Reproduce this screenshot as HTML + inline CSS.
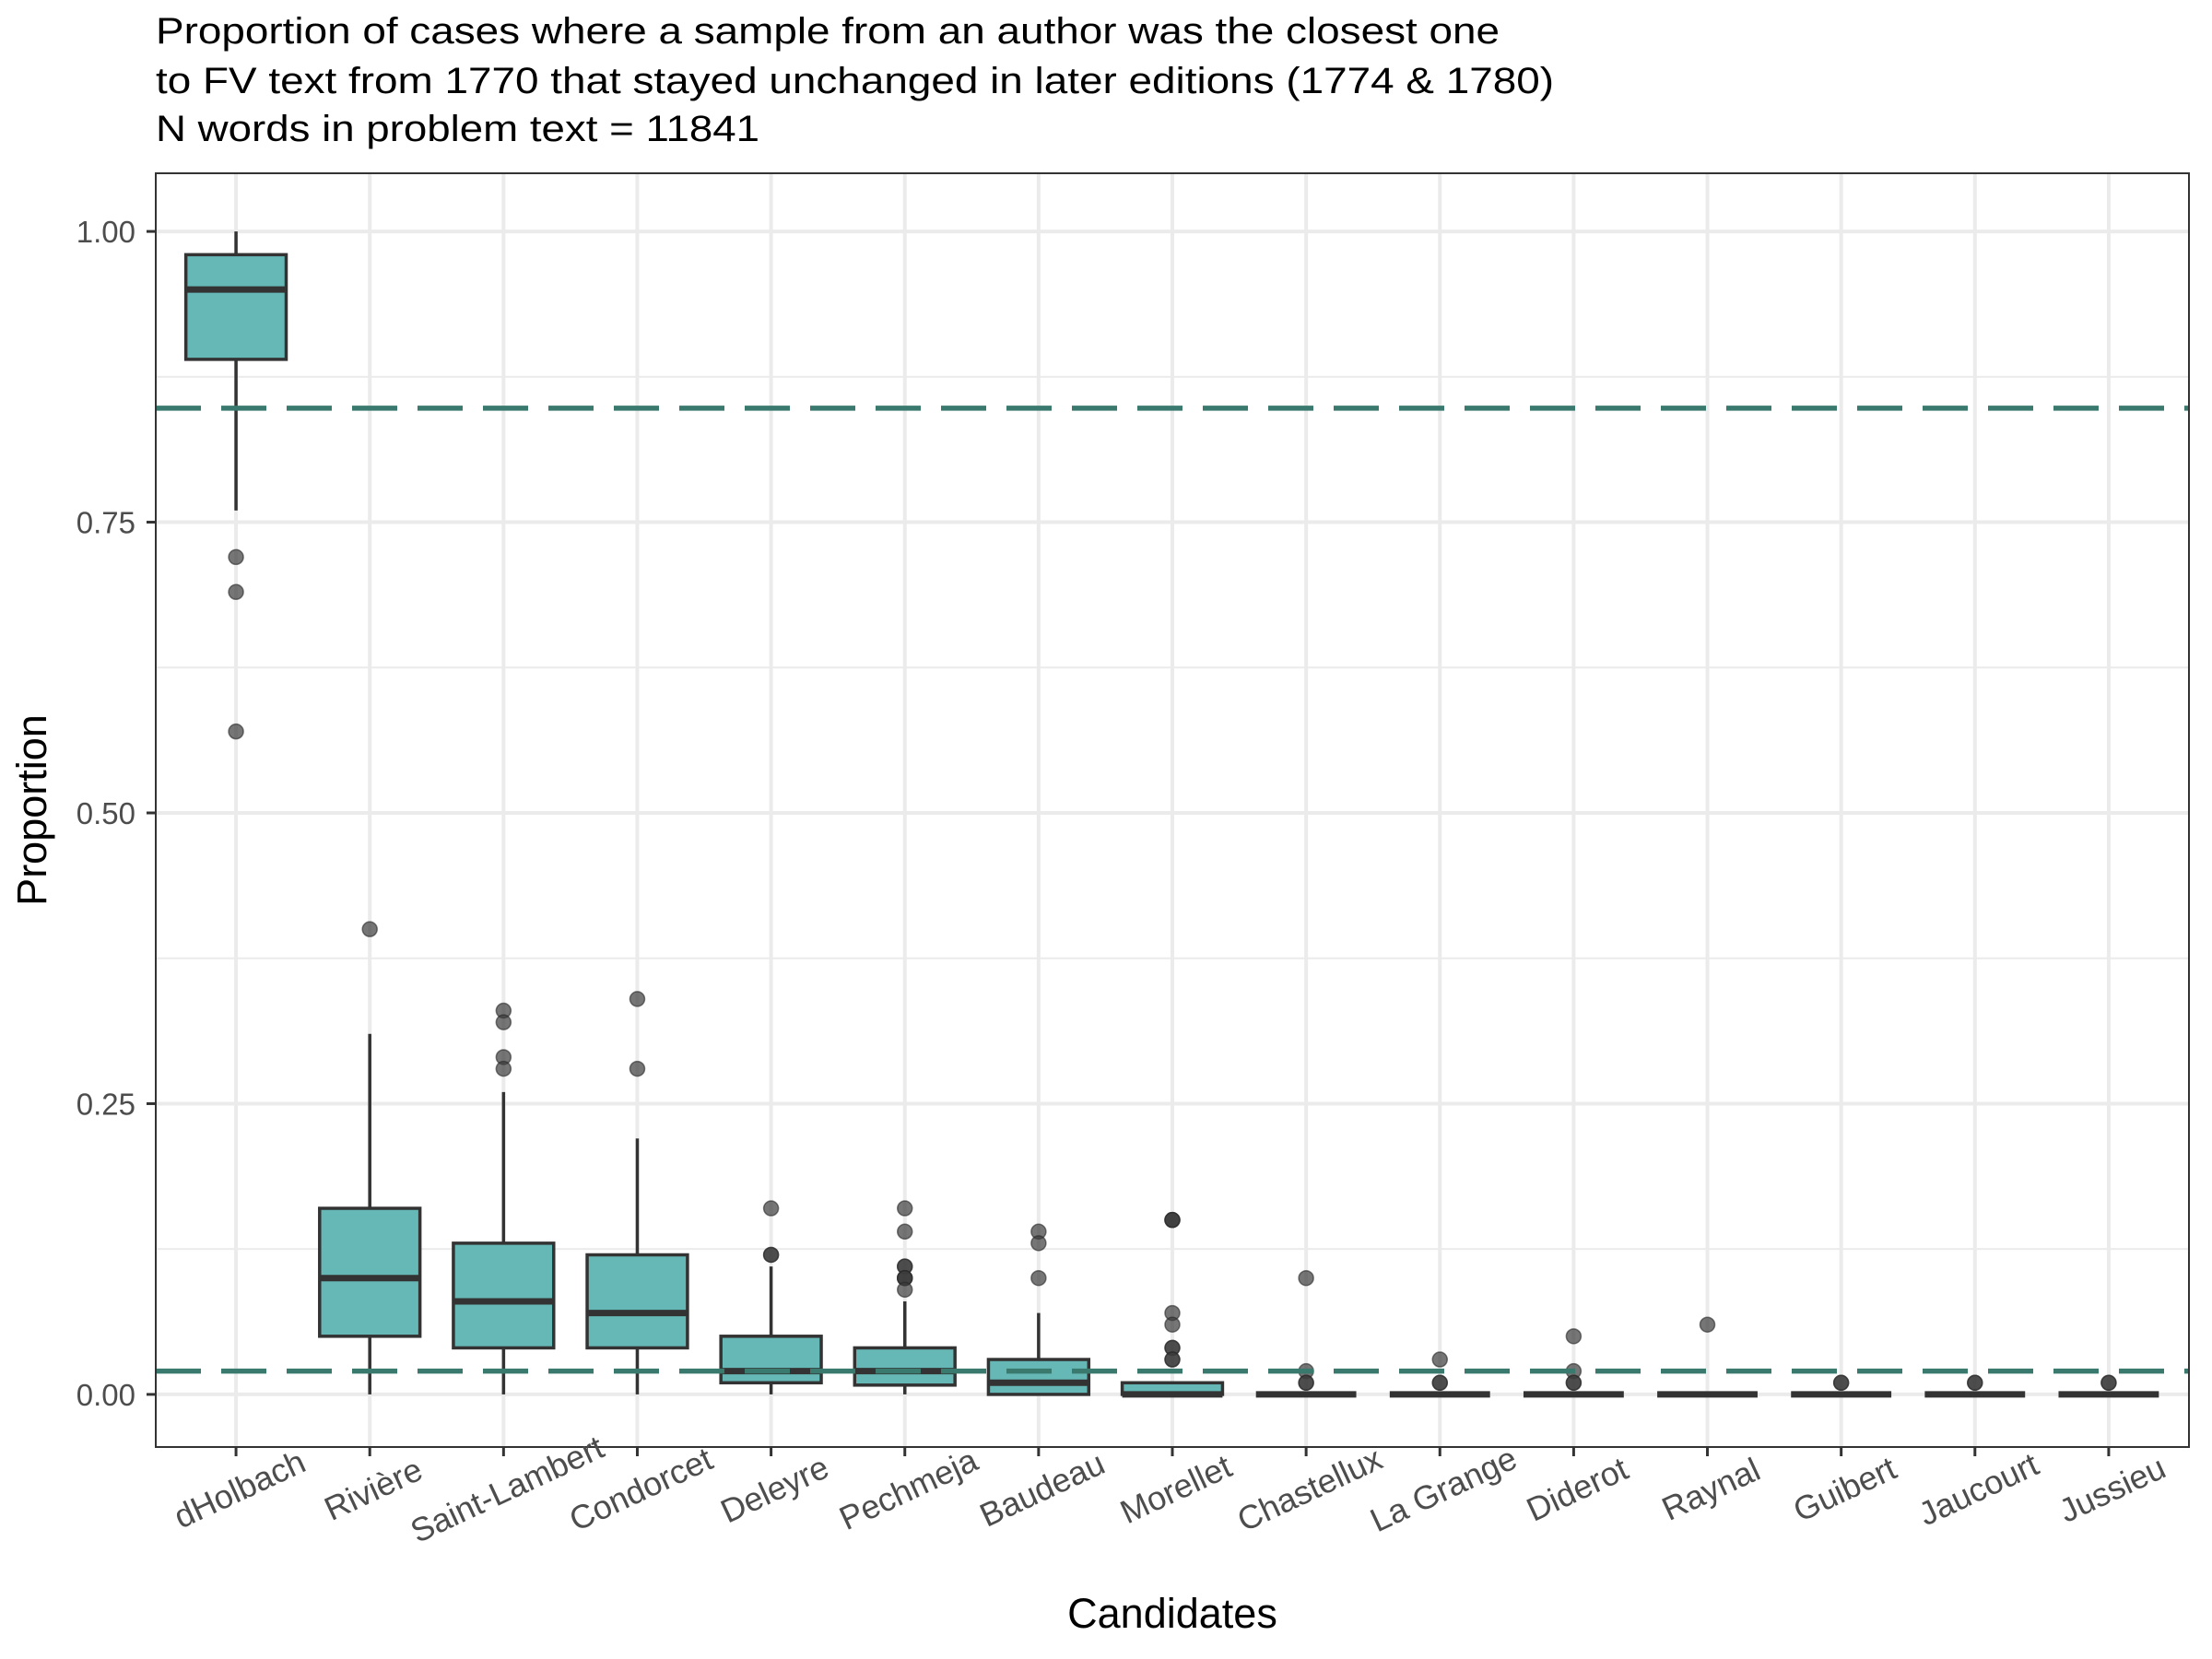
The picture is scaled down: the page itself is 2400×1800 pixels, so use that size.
<!DOCTYPE html>
<html><head><meta charset="utf-8">
<style>
html,body{margin:0;padding:0;background:#fff;}
svg{display:block;font-family:"Liberation Sans",Arial,sans-serif;}
</style></head>
<body>
<svg id="chart" width="2400" height="1800" viewBox="0 0 2400 1800">
  <g font-size="40" fill="#000">
    <text x="169" y="47" textLength="1458" lengthAdjust="spacingAndGlyphs">Proportion of cases where a sample from an author was the closest one</text>
    <text x="169" y="101" textLength="1517" lengthAdjust="spacingAndGlyphs">to FV text from 1770 that stayed unchanged in later editions (1774 &amp; 1780)</text>
    <text x="169" y="153" textLength="655" lengthAdjust="spacingAndGlyphs">N words in problem text = 11841</text>
  </g>
  <g id="grid"></g>
  <g id="boxes"></g>
  <g id="refs"></g>
  <rect x="169" y="188" width="2206" height="1382" fill="none" stroke="#333" stroke-width="2"/>
  <g id="yaxis"></g>
  <g id="xaxis"></g>
  <text x="50" y="879" font-size="45" text-anchor="middle" transform="rotate(-90 50 879)">Proportion</text>
  <text x="1272" y="1766" font-size="45" text-anchor="middle">Candidates</text>
</svg>
<script>
const categories = ["dHolbach","Rivière","Saint-Lambert","Condorcet","Deleyre","Pechmeja","Baudeau","Morellet","Chastellux","La Grange","Diderot","Raynal","Guibert","Jaucourt","Jussieu"];
const whiskerLow = [0.76,0,0,0,0,0,0,0,0,0,0,0,0,0,0];
const q1 = [0.89,0.05,0.04,0.04,0.01,0.008,0,0,0,0,0,0,0,0,0];
const medians = [0.95,0.10,0.08,0.07,0.02,0.02,0.01,0,0,0,0,0,0,0,0];
const q3 = [0.98,0.16,0.13,0.12,0.05,0.04,0.03,0.01,0,0,0,0,0,0,0];
const whiskerHigh = [1.0,0.31,0.26,0.22,0.11,0.08,0.07,0.01,0,0,0,0,0,0,0];
const outliers = [
  [0.72,0.69,0.57],
  [0.40],
  [0.33,0.32,0.29,0.28],
  [0.34,0.28],
  [0.16,0.12,0.12],
  [0.16,0.14,0.11,0.11,0.10,0.10,0.10,0.09],
  [0.14,0.13,0.10],
  [0.15,0.15,0.15,0.07,0.06,0.04,0.04,0.03,0.03],
  [0.10,0.02,0.01,0.01],
  [0.03,0.01,0.01],
  [0.05,0.02,0.01,0.01],
  [0.06],
  [0.01,0.01],
  [0.01,0.01],
  [0.01,0.01]
];
const refLines = [0.848,0.02];
const yTicks = [0,0.25,0.5,0.75,1.0];
const yTickLabels = ["0.00","0.25","0.50","0.75","1.00"];
const yMinorTicks = [0.125,0.375,0.625,0.875];

const NS="http://www.w3.org/2000/svg";
const PL=169,PR=2375,PT=188,PB=1570;
const YMIN=-0.05,YMAX=1.05;
function y(v){return 1576-(v-YMIN)/(YMAX-YMIN)*(1576-PT);}
const step=(PR-PL)/(categories.length-1+1.2);
function x(i){return PL+step*(0.6+i);}
function mk(tag,attrs,parent){const e=document.createElementNS(NS,tag);for(const k in attrs)e.setAttribute(k,attrs[k]);parent.appendChild(e);return e;}

const grid=document.getElementById('grid');
yMinorTicks.forEach(v=>{const l=mk('line',{x1:PL,x2:PR,y1:y(v),y2:y(v),stroke:'#ebebeb','stroke-width':2},grid);

});
yTicks.forEach(v=>{const l=mk('line',{x1:PL,x2:PR,y1:y(v),y2:y(v),stroke:'#ebebeb','stroke-width':4},grid);

});
categories.forEach((c,i)=>{const l=mk('line',{x1:x(i),x2:x(i),y1:PT,y2:PB,stroke:'#ebebeb','stroke-width':4},grid);

});

const boxes=document.getElementById('boxes');
const bw=step*0.75;
categories.forEach((c,i)=>{
  const g=mk('g',{},boxes);
  
  
  const cx=x(i);
  mk('line',{x1:cx,x2:cx,y1:y(q3[i]),y2:y(whiskerHigh[i]),stroke:'#333','stroke-width':3.5},g);
  mk('line',{x1:cx,x2:cx,y1:y(q1[i]),y2:y(whiskerLow[i]),stroke:'#333','stroke-width':3.5},g);
  mk('rect',{x:cx-bw/2,y:y(q3[i]),width:bw,height:Math.max(0,y(q1[i])-y(q3[i])),fill:'#66b8b6',stroke:'#333','stroke-width':3.5},g);
  mk('line',{x1:cx-bw/2,x2:cx+bw/2,y1:y(medians[i]),y2:y(medians[i]),stroke:'#333','stroke-width':7},g);
  outliers[i].forEach(v=>{const p=mk('circle',{cx:cx,cy:y(v),r:8,fill:'rgba(60,60,60,0.7)',stroke:'rgba(40,40,40,0.6)','stroke-width':1.5},g);
  
  });
});

const refs=document.getElementById('refs');
refLines.forEach(v=>{const l=mk('line',{x1:PL,x2:PR,y1:y(v),y2:y(v),stroke:'#3a7a6e','stroke-width':5.5,'stroke-dasharray':'49 22'},refs);

});

const yaxis=document.getElementById('yaxis');
yTicks.forEach((v,k)=>{
  mk('line',{x1:PL-10,x2:PL,y1:y(v),y2:y(v),stroke:'#333','stroke-width':3},yaxis);
  const t=mk('text',{x:PL-22,y:y(v)+12,'font-size':33,'text-anchor':'end',fill:'#4d4d4d'},yaxis);
  t.textContent=yTickLabels[k];
  
  
});
const xaxis=document.getElementById('xaxis');
categories.forEach((c,i)=>{
  mk('line',{x1:x(i),x2:x(i),y1:PB,y2:PB+10,stroke:'#333','stroke-width':3},xaxis);
  const cx=x(i)+4, cy=1616;
  const t=mk('text',{x:cx,y:cy+12,'font-size':36,'text-anchor':'middle',fill:'#4d4d4d',transform:'rotate(-25 '+cx+' '+cy+')'},xaxis);
  t.textContent=c;
  
  
});
</script>
</body></html>
